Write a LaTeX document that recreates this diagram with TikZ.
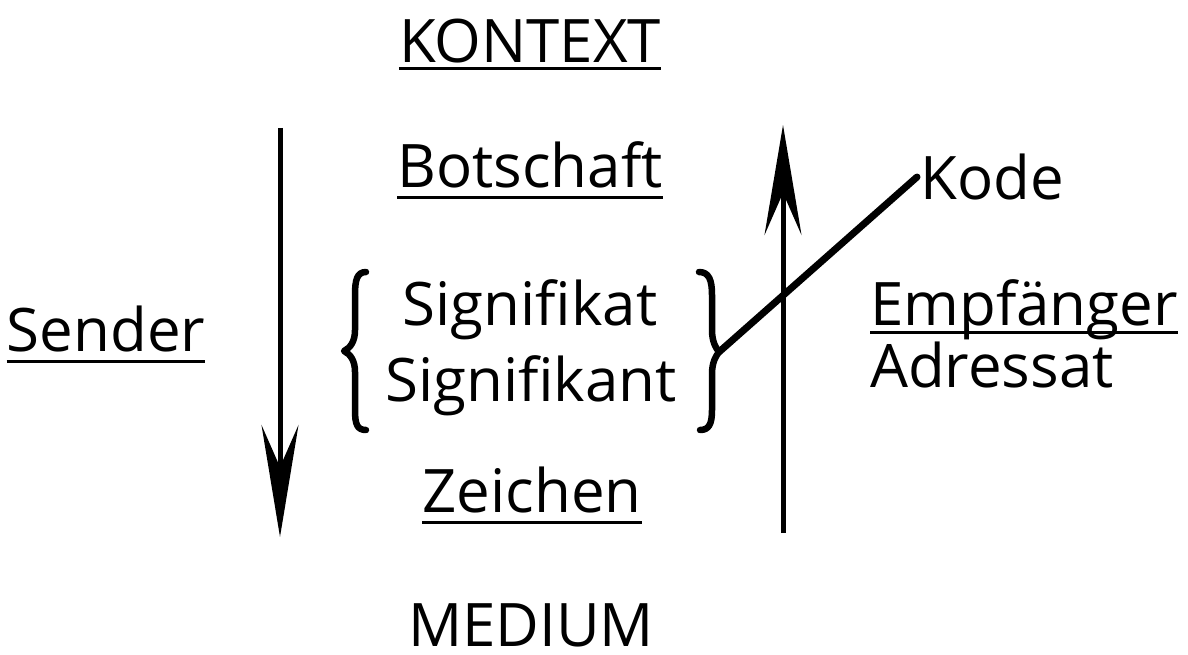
\documentclass[tikz,border=0pt]{standalone}
\usepackage{fontspec}
\setmainfont{Open Sans}
\usetikzlibrary{arrows.meta}
\tikzset{
  lbl/.style={inner sep=0pt, anchor=base, font=\fontsize{60}{66}\selectfont},
  uline/.style={line width=3pt},
  shaft/.style={line width=5pt},
  brace/.style={line width=6.5pt, line cap=round, line join=round},
  kodeline/.style={line width=7pt, line cap=round},
}
\begin{document}
\begin{tikzpicture}[x=1pt,y=-1pt]
\useasboundingbox (0,0) rectangle (1188,655);
\node[lbl] (kontext) at (530,63) {KONTEXT};
\node[lbl] (botschaft) at (530,188) {Botschaft};
\node[lbl] (signifikat) at (530,325) {Signifikat};
\node[lbl] (signifikant) at (531,401) {Signifikant};
\node[lbl] (zeichen) at (532,512) {Zeichen};
\node[lbl] (medium) at (531,646) {MEDIUM};
\node[lbl] (sender) at (106,351) {Sender};
\node[lbl, anchor=base west] (kode) at (920,200) {Kode};
\node[lbl, anchor=base west] (empf) at (870,325) {Empfänger};
\node[lbl, anchor=base west] (adr) at (870,387) {Adressat};
% underlines
\draw[uline] ([yshift=-6pt]kontext.base west) -- ([yshift=-6pt]kontext.base east);
\draw[uline] ([yshift=-10pt]botschaft.base west) -- ([yshift=-10pt]botschaft.base east);
\draw[uline] ([yshift=-10pt]zeichen.base west) -- ([yshift=-10pt]zeichen.base east);
\draw[uline] ([yshift=-10pt]sender.base west) -- ([yshift=-10pt]sender.base east);
\draw[uline] ([yshift=-7pt]empf.base west) -- ([yshift=-7pt]empf.base east);
% arrows
\coordinate (dtop) at (280,128);
\coordinate (dbot) at (280,537);
\coordinate (ubot) at (783,533);
\coordinate (utop) at (783,125);
\draw[shaft, -{Stealth[length=112pt,width=37pt,inset=42pt]}] (dtop) -- (dbot);
\draw[shaft, -{Stealth[length=110pt,width=37pt,inset=42pt]}] (ubot) -- (utop);
% braces
\draw[brace] (366,272) .. controls (357,272) and (355,280) .. (355,295) -- (355,330) .. controls (355,342) and (350,348) .. (344,351) .. controls (350,354) and (355,360) .. (355,372) -- (355,410) .. controls (355,424) and (357,430) .. (366,430);
\coordinate (btip) at (719,352);
\draw[brace] (699,272) .. controls (709,272) and (712,280) .. (712,295) -- (712,330) .. controls (712,342) and (716,348) .. (btip) .. controls (716,356) and (712,362) .. (712,374) -- (712,410) .. controls (712,424) and (709,430) .. (700,430);
% Kode line
\coordinate (kend) at (917,177);
\draw[kodeline] (btip) -- (kend);
\end{tikzpicture}
\end{document}
